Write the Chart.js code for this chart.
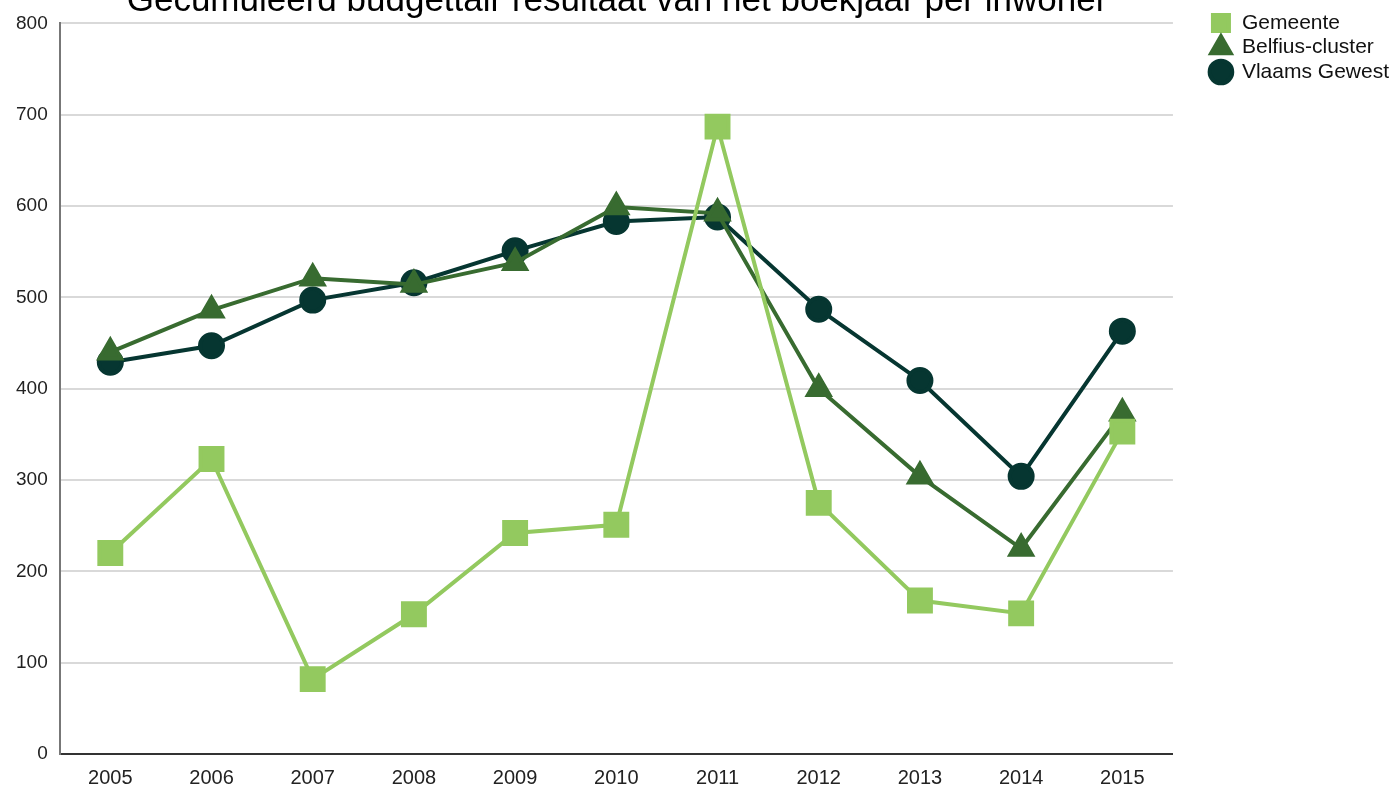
<!DOCTYPE html>
<html>
<head>
<meta charset="utf-8">
<script src="https://cdn.jsdelivr.net/npm/chart.js@4.4.0/dist/chart.umd.min.js"></script>
<style>
  html, body { margin: 0; padding: 0; background: #fff; overflow: hidden; }
  canvas { display: block; }
</style>
</head>
<body>
<canvas id="myChart" width="1395" height="787"></canvas>
<script>
var titleText = 'Gecumuleerd budgettair resultaat van het boekjaar per inwoner'
var jaren = ['2005', '2006', '2007', '2008', '2009', '2010', '2011', '2012', '2013', '2014', '2015']
var gemeente = [220, 323, 82, 153, 242, 251, 687, 275, 168, 154, 353]
var belfius = [440, 486, 521, 514, 538, 599, 592, 400, 304, 225, 373]
var vlaams = [429, 447, 497, 516, 551, 583, 588, 487, 409, 304, 463]
var yTicks = [0, 100, 200, 300, 400, 500, 600, 700, 800]

var fontFam = '"Liberation Sans", Arial, sans-serif'

// titel staat deels buiten beeld, dus zelf tekenen
var titelPlugin = {
    id: 'titel',
    afterDraw: function (chart) {
        var c = chart.ctx
        c.save()
        c.font = '35px ' + fontFam
        c.fillStyle = '#000'
        c.textAlign = 'center'
        c.textBaseline = 'alphabetic'
        c.fillText(titleText, 617, 11)
        c.restore()
    }
}

// legenda iets breder reserveren zodat de plot eerder stopt
var legendeRuimte = 34
var legendePlugin = {
    id: 'legendeRuimte',
    beforeLayout: function (chart) {
        var lg = chart.legend
        if (!lg || lg._gewrapt) return
        var origFit = lg.fit
        lg.fit = function () {
            origFit.call(this)
            this._natW = this.width
            this.width = this.width + legendeRuimte
        }
        lg._gewrapt = true
    },
    afterLayout: function (chart) {
        var lg = chart.legend
        lg.left = lg.right - lg._natW
        lg.width = lg._natW
        lg.top = lg.top - 5
    }
}

const ctx = document.getElementById('myChart');
new Chart(ctx, {
    type: 'line',
    data: {
        labels: jaren,
        datasets: [{
            label: 'Gemeente',
            data: gemeente,
            borderColor: '#93c95f',
            backgroundColor: '#93c95f',
            borderWidth: 4,
            pointStyle: 'rect',
            pointRadius: 15.5,
            pointHoverRadius: 15.5
        }, {
            label: 'Belfius-cluster',
            data: belfius,
            borderColor: '#386b30',
            backgroundColor: '#386b30',
            borderWidth: 4,
            pointStyle: 'triangle',
            pointRadius: 12.5,
            pointHoverRadius: 12.5
        }, {
            label: 'Vlaams Gewest',
            data: vlaams,
            borderColor: '#063631',
            backgroundColor: '#063631',
            borderWidth: 4,
            pointStyle: 'circle',
            pointRadius: 11.5,
            pointHoverRadius: 11.5
        }]
    },
    options: {
        responsive: false,
        animation: false,
        layout: { padding: { top: 14, left: 4, right: -4, bottom: -15 } },
        plugins: {
            title: { display: false },
            tooltip: { enabled: false },
            legend: {
                position: 'right',
                align: 'start',
                labels: {
                    usePointStyle: true,
                    boxHeight: 16,
                    padding: 3.5,
                    color: '#111',
                    font: { family: fontFam, size: 21 }
                }
            }
        },
        scales: {
            x: {
                offset: true,
                grid: { display: false, drawTicks: false },
                border: { color: '#333', width: 2 },
                ticks: {
                    color: '#222',
                    padding: 12,
                    maxRotation: 0,
                    font: { family: fontFam, size: 20 }
                }
            },
            y: {
                min: 0,
                max: 800,
                afterBuildTicks: function (axis) {
                    axis.ticks = yTicks.map(function (v) { return { value: v } })
                },
                grid: { color: '#d9d9d9', lineWidth: 2, drawTicks: false },
                border: { color: '#777', width: 2 },
                ticks: {
                    color: '#222',
                    padding: 12,
                    font: { family: fontFam, size: 19 }
                }
            }
        }
    },
    plugins: [titelPlugin, legendePlugin]
});
</script>
</body>
</html>
